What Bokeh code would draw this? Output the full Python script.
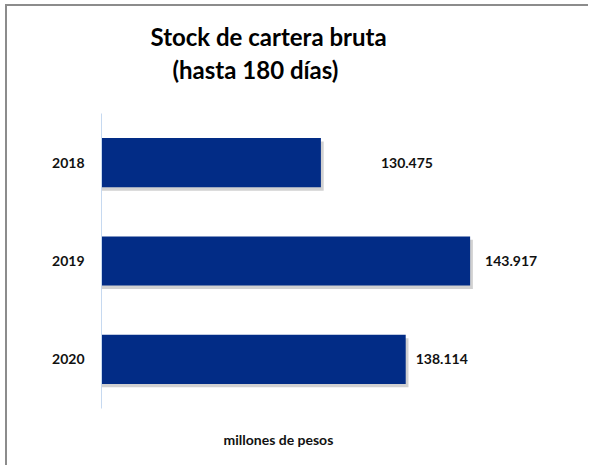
from bokeh.plotting import figure
from bokeh.models import ColumnDataSource, FactorRange, Range1d, Title, InlineStyleSheet
from bokeh.transform import dodge
from bokeh.core.properties import value
from bokeh.embed import file_html
from bokeh.resources import INLINE

# Data (millones de pesos)
years = ["2018", "2019", "2020"]
stock = [130475, 143917, 138114]
labels = ["130.475", "143.917", "138.114"]
label_dx = [60, 15, 10]

FONT = "Lato"
BAR = "#022C86"

src = ColumnDataSource(dict(year=years, value=stock, label=labels, dx=label_dx))

p = figure(width=583, height=461, output_backend="svg", toolbar_location=None,
           y_range=FactorRange(factors=years[::-1]),
           x_range=Range1d(110710, 153410),
           x_axis_location=None,
           min_border_left=94, min_border_right=15, min_border_top=107, min_border_bottom=57)
p.stylesheets = [InlineStyleSheet(css=":host { margin-left: 5px; margin-top: 4px; border-left: 2px solid #8c8c8c; border-top: 2px solid #8c8c8c; }")]

p.outline_line_color = None
p.grid.visible = False
p.background_fill_color = "white"
p.border_fill_color = "white"

# shadow
p.hbar(y=dodge("year", -0.035, range=p.y_range), right=dodge("value", 250), left=0, height=0.5,
       source=src, fill_color="#9a9a9a", fill_alpha=0.45, line_color=None)
p.hbar(y="year", right="value", left=0, height=0.5, source=src,
       fill_color=BAR, line_color=None)

p.text(x="value", y="year", text="label", source=src, x_offset="dx",
       text_baseline="middle", text_align="left", text_font=value(FONT),
       text_font_style="bold", text_font_size="14px", text_color="#111111")

ax = p.yaxis[0]
ax.axis_line_color = "#C6D9F0"
ax.axis_line_width = 1
ax.major_tick_line_color = None
ax.minor_tick_line_color = None
ax.major_label_standoff = 11
ax.major_label_text_font = FONT
ax.major_label_text_font_style = "bold"
ax.major_label_text_font_size = "14px"
ax.major_label_text_color = "#111111"

t2 = Title(text="(hasta 180 días)", align="left", offset=71, standoff=60, text_line_height=0.6,
           text_font=FONT, text_font_style="bold", text_font_size="24px", text_color="#000000")
t1 = Title(text="Stock de cartera bruta", align="left", offset=49, standoff=-56,
           text_font=FONT, text_font_style="bold", text_font_size="24px", text_color="#000000")
p.add_layout(t2, "above")
p.add_layout(t1, "above")

tb = Title(text="millones de pesos", align="left", offset=122, standoff=40,
           text_font=FONT, text_font_style="bold", text_font_size="14px", text_color="#111111")
p.add_layout(tb, "below")

open("out.html", "w").write(file_html(p, INLINE))
